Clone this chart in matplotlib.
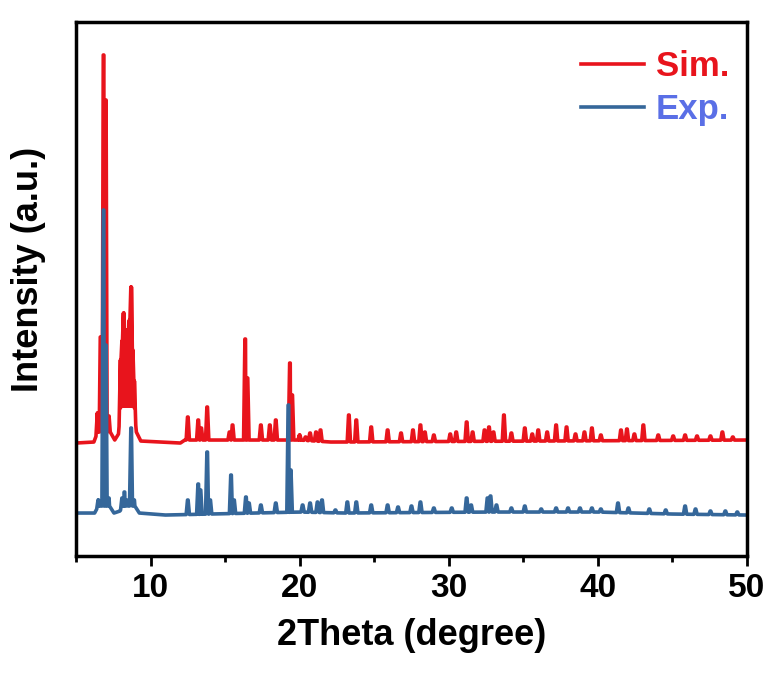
import numpy as np
import matplotlib.pyplot as plt
from matplotlib.ticker import MultipleLocator

# peak positions (2theta) and peak tops (a.u.)
sim_pos = [6.45, 6.65, 6.85, 7.0, 7.2, 8.0, 8.1, 8.2, 8.3, 8.4, 8.5, 8.6, 8.7,
           8.8, 8.9, 12.5, 13.2, 13.4, 13.8, 15.3, 15.5, 16.35, 16.5, 17.4,
           18.0, 18.4, 19.35, 19.5, 20.0, 20.4, 20.7, 21.1, 21.4, 23.3, 23.8,
           24.8, 25.9, 26.8, 27.6, 28.1, 28.4, 29.0, 30.1, 30.5, 31.2, 31.6,
           32.4, 32.7, 33.0, 33.7, 34.2, 35.1, 35.6, 36.0, 36.6, 37.2, 37.9,
           38.5, 39.1, 39.6, 40.2, 41.55, 41.95, 42.45, 43.05, 44.05, 45.05,
           45.85, 46.65, 47.55, 48.35, 49.05]
sim_top = [143, 219, 501, 456, 140, 196, 215, 243, 211, 226, 216, 236, 269,
           206, 175, 139, 136, 128, 149, 124, 131, 217, 178, 131,
           131, 136, 193, 161, 121, 119, 123, 124, 126, 141, 136,
           129, 126, 123, 126, 131, 124, 121, 122, 124, 134, 124,
           126, 129, 124, 141, 123, 128, 122, 126, 124, 131, 129,
           122, 124, 128, 121, 126, 127, 122, 131, 121, 120,
           121, 120, 120, 124, 119]
sim_base_x = [5, 6.2, 6.45, 7.3, 7.6, 7.85, 8.0, 8.9, 9.05, 9.35, 12.0,
              12.3, 20.0, 22.1, 22.7, 50]
sim_base_y = [113, 114, 124, 124, 116, 122, 150, 150, 124, 115, 113,
              116, 116, 114, 114, 116]

exp_pos = [6.5, 6.85, 7.0, 7.2, 8.1, 8.25, 8.4, 8.7, 8.9, 12.5, 13.2,
           13.35, 13.8, 14.0, 15.4, 15.6, 16.4, 16.6, 17.4, 18.4, 19.25,
           19.4, 20.2, 20.7, 21.2, 21.5, 22.4, 23.2, 23.8, 24.8, 25.9, 26.6,
           27.5, 28.1, 29.0, 30.2, 31.2, 31.5, 32.6, 32.8, 33.2, 34.2, 35.1,
           36.2, 37.2, 38.0, 38.8, 39.6, 40.2, 41.35, 42.05, 43.45, 44.55,
           45.85, 46.55, 47.55, 48.55, 49.35]
exp_top = [56, 346, 211, 58, 58, 64, 56, 128, 56, 56, 72,
           66, 104, 56, 81, 56, 59, 53, 51, 53, 151,
           86, 51, 53, 54, 56, 46, 54, 54, 51, 51, 49,
           50, 54, 48, 48, 58, 51, 58, 60, 51, 48, 50,
           47, 48, 48, 48, 48, 47, 53, 48, 47, 46,
           50, 47, 45, 45, 44]
exp_base_x = [5, 6.25, 6.5, 7.25, 7.55, 7.95, 8.15, 8.95, 9.25, 11.0, 20.0,
              23.0, 33.0, 40.0, 45.0, 50]
exp_base_y = [43, 43, 50, 50, 43, 45, 50, 50, 43, 41, 44,
              43, 44, 44, 42, 41]

labels = ['Sim.', 'Exp.']
red = '#e8141c'
blue = '#35679a'
blue_text = '#5a6fe6'


def trace(pos, top, bx, by, w=0.11):
    # baseline anchors plus a narrow spike for every peak
    xs = list(bx)
    ys = list(by)
    for p, t in zip(pos, top):
        xs += [p - w, p - 0.02, p + 0.02, p + w]
        ys += [np.interp(p - w, bx, by), t, t, np.interp(p + w, bx, by)]
    order = np.argsort(xs, kind='stable')
    return np.array(xs)[order], np.array(ys)[order]


plt.rcParams['font.family'] = ['Liberation Sans', 'DejaVu Sans']
plt.rcParams['font.weight'] = 'bold'

fig = plt.figure(figsize=(7.72, 6.73), dpi=100)
ax = fig.add_axes([0.0984, 0.1738, 0.8692, 0.7935])

sx, sy = trace(sim_pos, sim_top, sim_base_x, sim_base_y)
ex, ey = trace(exp_pos, exp_top, exp_base_x, exp_base_y)
ax.plot(sx, sy, color=red, lw=2.6, label=labels[0])
ax.plot(ex, ey, color=blue, lw=2.6, label=labels[1])

ax.set_xlim(5, 50)
ax.set_ylim(0, 534)
ax.set_yticks([])
ax.xaxis.set_major_locator(MultipleLocator(10))
ax.xaxis.set_minor_locator(MultipleLocator(5))
ax.tick_params(axis='x', which='major', direction='out', length=7, width=2,
               labelsize=24, pad=5)
ax.tick_params(axis='x', which='minor', direction='out', length=4, width=2)
for sp in ax.spines.values():
    sp.set_linewidth(2.5)

ax.set_xlabel('2Theta (degree)', fontsize=26, fontweight='bold', labelpad=10)
ax.set_ylabel('Intensity (a.u.)', fontsize=26, fontweight='bold')
ax.yaxis.set_label_coords(-0.045, 0.536)

leg = ax.legend(loc='upper right', frameon=False,
                handlelength=1.8, handletextpad=0.35, labelspacing=0.3,
                borderaxespad=0.5, bbox_to_anchor=(1.02, 1.006),
                prop={'weight': 'bold', 'size': 25})
for txt, c in zip(leg.get_texts(), [red, blue_text]):
    txt.set_color(c)

fig.savefig('out.png', dpi=100)
